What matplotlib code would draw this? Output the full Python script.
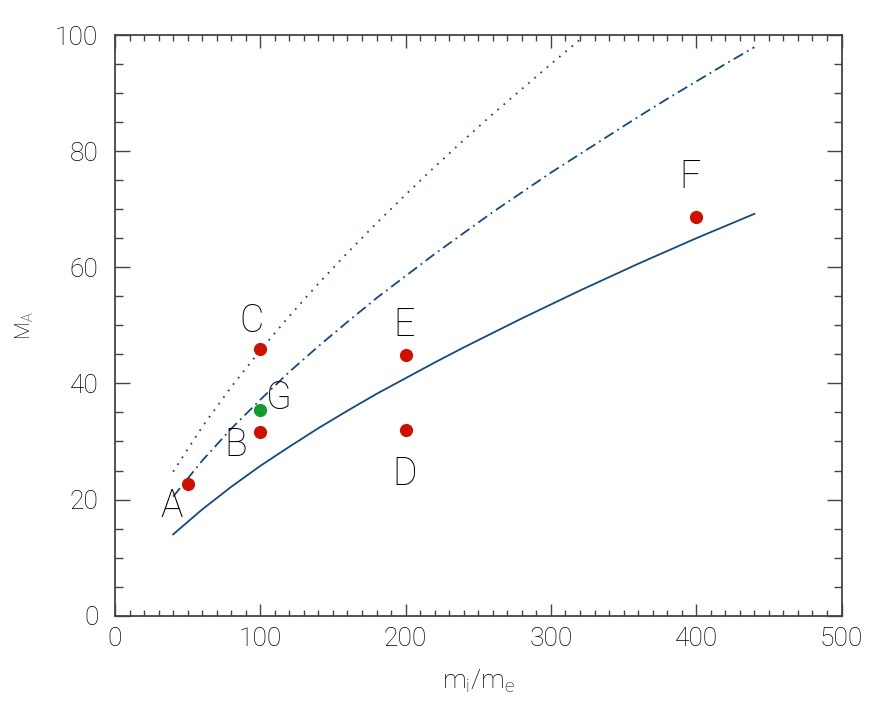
import matplotlib as mpl
mpl.use('Agg')
import matplotlib.pyplot as plt
from matplotlib.ticker import MultipleLocator

# curves (M_A vs m_i/m_e)
x_curve = [40, 60, 80, 100, 120, 140, 160, 180, 200, 220, 240, 260, 280, 300, 320,
           340, 360, 380, 400, 420, 440]
solid_y = [14.0, 18.3, 22.2, 25.8, 29.1, 32.3, 35.3, 38.2, 40.9, 43.6, 46.2, 48.7,
           51.2, 53.6, 56.0, 58.3, 60.6, 62.8, 65.0, 67.1, 69.2]
dashdot_y = [20.5, 26.7, 32.2, 37.2, 42.0, 46.4, 50.6, 54.7, 58.5, 62.3, 65.9, 69.5,
             72.9, 76.3, 79.5, 82.7, 85.9, 89.0, 92.0, 95.0, 97.9]
x_dotted = [40, 60, 80, 100, 120, 140, 160, 180, 200, 220, 240, 260, 280, 300, 320]
dotted_y = [24.8, 32.5, 39.4, 45.7, 51.6, 57.2, 62.5, 67.6, 72.5, 77.3, 81.9, 86.4,
            90.7, 95.0, 99.2]

# simulation runs
run_names = ['A', 'B', 'C', 'D', 'E', 'F']
run_x = [50, 100, 100, 200, 200, 400]
run_y = [22.6, 31.7, 45.9, 32.0, 44.9, 68.7]
g_name = 'G'
g_x = [100]
g_y = [35.5]

# label offsets (data units) from each point
label_dx = {'A': -11, 'B': -17, 'C': -6, 'D': -1, 'E': -1, 'F': -4, 'G': 13}
label_dy = {'A': -3.8, 'B': -2.4, 'C': 4.8, 'D': -7.6, 'E': 5.2, 'F': 6.8, 'G': 2.0}

line_col = '#174a7a'
axis_col = '#444444'
txt_col = 'black'
fnt = ['Roboto', 'DejaVu Sans']
wt = 'light'

fig = plt.figure(figsize=(8.86, 7.09), dpi=100)
ax = fig.add_axes([0.1298, 0.1316, 0.82, 0.819])

ax.plot(x_curve, solid_y, color=line_col, lw=1.3, ls='-')
ax.plot(x_curve, dashdot_y, color=line_col, lw=1.3, ls=(0, (6, 2.5, 1, 2.5)))
ax.plot(x_dotted, dotted_y, color=line_col, lw=1.3, ls=(0, (1, 3.5)))

ax.plot(run_x, run_y, 'o', color='#cc1100', ms=9.5, mec='none')
ax.plot(g_x, g_y, 'o', color='#139a2a', ms=9.5, mec='none')

for n, x, y in zip(run_names + [g_name], run_x + g_x, run_y + g_y):
  ax.text(x + label_dx[n], y + label_dy[n], n, ha='center', va='center',
          fontsize=27, family=fnt, fontweight=wt, color=txt_col)

ax.set_xlim(0, 500)
ax.set_ylim(0, 100)
ax.xaxis.set_major_locator(MultipleLocator(100))
ax.xaxis.set_minor_locator(MultipleLocator(10))
ax.yaxis.set_major_locator(MultipleLocator(20))
ax.yaxis.set_minor_locator(MultipleLocator(5))

ax.tick_params(axis='both', which='both', direction='in', top=True, right=True,
               color=axis_col, width=1, labelcolor=txt_col)
ax.tick_params(axis='x', which='major', length=9, pad=8, labelsize=19)
ax.tick_params(axis='x', which='minor', length=4.5)
ax.tick_params(axis='y', which='major', length=11, pad=12, labelsize=19)
ax.tick_params(axis='y', which='minor', length=5.5)
for lab in ax.get_xticklabels() + ax.get_yticklabels():
  lab.set_family(fnt)
  lab.set_fontweight(wt)

for s in ax.spines.values():
  s.set_edgecolor(axis_col)
  s.set_linewidth(1.3)

ax.set_xlabel('m$_\\mathregular{i}$/m$_\\mathregular{e}$', fontsize=19, family=fnt,
              fontweight=wt, color=txt_col, labelpad=12)
ax.set_ylabel('M$_\\mathregular{A}$', fontsize=15, family=fnt, fontweight=wt,
              color=txt_col, labelpad=14)

plt.savefig('out.png', dpi=100)
